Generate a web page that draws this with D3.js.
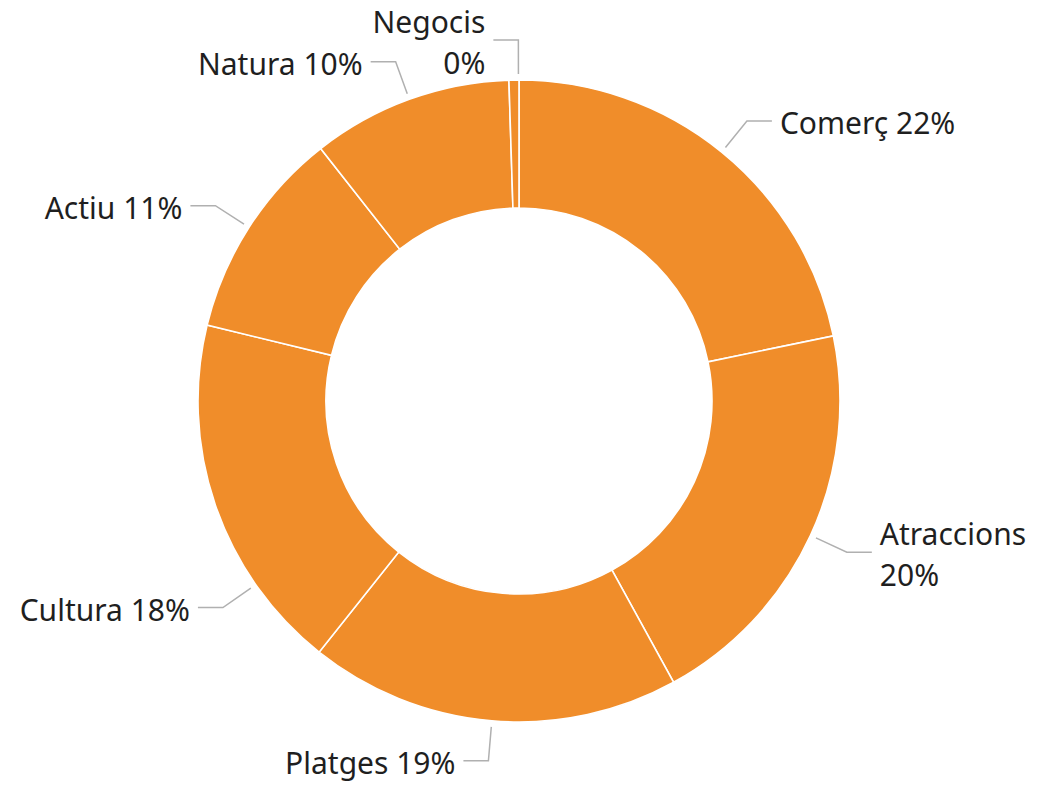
<!DOCTYPE html>
<html>
<head>
<meta charset="utf-8">
<script src="https://cdn.jsdelivr.net/npm/d3@7"></script>
<style>
  html, body { margin: 0; padding: 0; background: #ffffff; }
  svg { display: block; }
  text { font-family: "Noto Sans", "Open Sans", sans-serif; fill: #1f1f1f; }
</style>
</head>
<body>
<div id="chart"></div>
<script>
// ---- data ----
const categories = ["Comerç", "Atraccions", "Platges", "Cultura", "Actiu", "Natura", "Negocis"];
const values = [21.75, 20.25, 18.7, 18.1, 10.6, 10.1, 0.5];
const percentLabels = ["22%", "20%", "19%", "18%", "11%", "10%", "0%"];
// labels that are broken over two lines
const wrapLabels = ["Atraccions", "Negocis"];
// small angular shifts (degrees) for label placement to avoid collisions
const labelShift = { "Cultura": -16, "Negocis": 0.8 };

const W = 1051, H = 787;
const cx = 519, cy = 401;
const outerR = 321, innerR = 193;
const color = "#f08d2a";
const fontSize = 30;

const svg = d3.select("#chart").append("svg")
  .attr("width", W).attr("height", H);

const data = categories.map((c, i) => ({ cat: c, value: values[i], pct: percentLabels[i] }));

const pie = d3.pie().value(d => d.value).sort(null);
const arcs = pie(data);
const arc = d3.arc().innerRadius(innerR).outerRadius(outerR);

const g = svg.append("g").attr("transform", `translate(${cx},${cy})`);

g.selectAll("path.slice")
  .data(arcs)
  .join("path")
  .attr("class", "slice")
  .attr("d", arc)
  .attr("fill", color)
  .attr("stroke", "#ffffff")
  .attr("stroke-width", 1.6);

// leader lines and labels
const r1 = outerR + 6, r2 = outerR + 40, hLen = 25, gap = 8;

arcs.forEach(a => {
  const cat = a.data.cat;
  let mid = (a.startAngle + a.endAngle) / 2;
  if (labelShift[cat]) mid += labelShift[cat] * Math.PI / 180;
  const sx = r1 * Math.sin(mid), sy = -r1 * Math.cos(mid);
  const ex = r2 * Math.sin(mid), ey = -r2 * Math.cos(mid);
  const right = Math.sin(mid) > 0;
  const hx = ex + (right ? hLen : -hLen);
  g.append("polyline")
    .attr("points", [[sx, sy], [ex, ey], [hx, ey]].map(p => p.join(",")).join(" "))
    .attr("fill", "none")
    .attr("stroke", "#b0b0b0")
    .attr("stroke-width", 1.5);

  const tx = hx + (right ? gap : -gap);
  const t = g.append("text")
    .attr("x", tx)
    .attr("text-anchor", right ? "start" : "end")
    .attr("font-size", fontSize);
  if (wrapLabels.includes(cat)) {
    t.append("tspan").attr("x", tx).attr("y", ey - 7).text(cat);
    t.append("tspan").attr("x", tx).attr("y", ey + 34).text(a.data.pct);
  } else {
    t.attr("y", ey + 13).text(cat + " " + a.data.pct);
  }
});
</script>
</body>
</html>
